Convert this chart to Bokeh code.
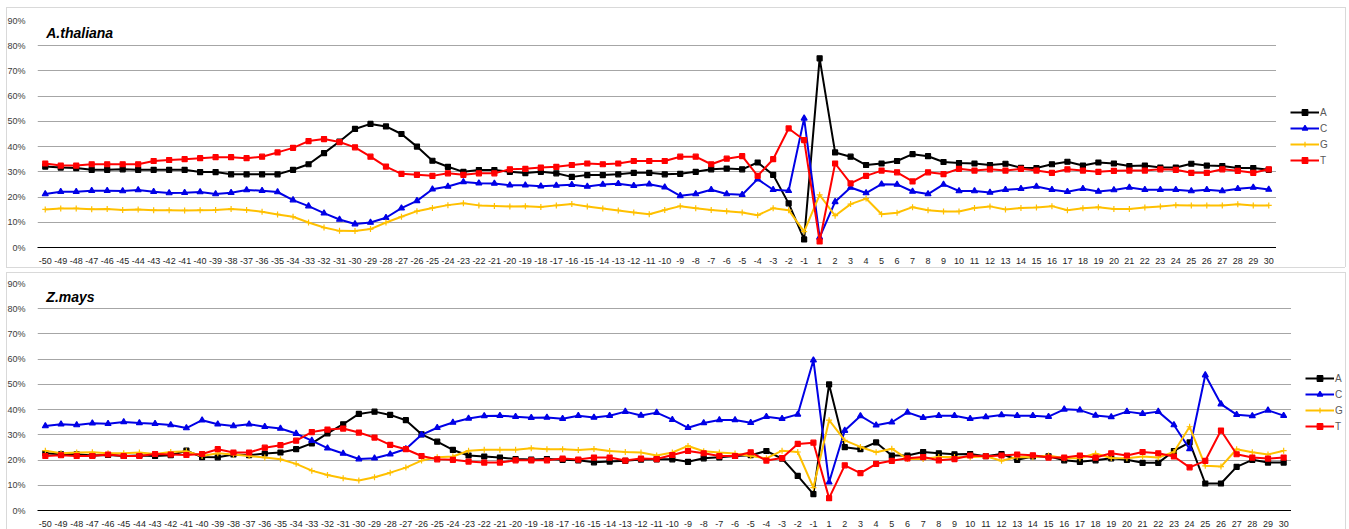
from bokeh.plotting import figure
from bokeh.models import (FactorRange, Range1d, FixedTicker, PrintfTickFormatter,
                          Legend, LegendItem)
from bokeh.layouts import column, row
from bokeh.embed import file_html
from bokeh.resources import INLINE
from bokeh.core.properties import value

# ---------------- data ----------------
positions = [str(i) for i in range(-50, 0)] + [str(i) for i in range(1, 31)]
y_ticks = [0, 10, 20, 30, 40, 50, 60, 70, 80, 90]

# A.thaliana (percent)
at_A = [32.1, 31.7, 31.5, 30.8, 30.8, 31.0, 30.8, 30.8, 30.8, 30.8,
        29.9, 29.9, 29.0, 29.0, 29.0, 29.0, 30.8, 33.0, 37.4, 42.0,
        47.0, 49.0, 48.0, 45.0, 40.0, 34.4, 32.0, 30.0, 30.7, 30.7,
        30.0, 29.5, 30.0, 29.4, 28.0, 28.7, 28.7, 29.0, 29.6, 29.6,
        29.0, 29.2, 30.0, 31.0, 31.3, 31.0, 33.7, 28.8, 17.5, 3.2,
        75.0, 37.7, 36.0, 32.7, 33.3, 34.3, 37.0, 36.2, 33.9, 33.5,
        33.3, 32.7, 33.2, 31.6, 31.5, 33.0, 34.0, 32.5, 33.7, 33.3,
        32.3, 32.5, 31.7, 31.7, 33.2, 32.5, 32.3, 31.5, 31.5, 30.8]
at_C = [21.2, 22.1, 22.1, 22.5, 22.5, 22.4, 22.8, 22.1, 21.6, 21.7,
        22.0, 21.2, 21.7, 22.8, 22.5, 22.0, 18.8, 16.4, 13.6, 11.1,
        9.3, 9.9, 11.8, 15.6, 18.5, 23.1, 24.2, 26.0, 25.5, 25.4,
        24.7, 24.7, 24.3, 24.6, 24.9, 24.2, 25.0, 25.3, 24.5, 25.1,
        23.9, 20.5, 21.2, 22.9, 21.2, 20.9, 27.1, 22.9, 22.5, 51.2,
        4.0, 18.1, 23.8, 21.6, 25.1, 25.0, 22.2, 21.2, 25.0, 22.4,
        22.4, 21.8, 22.9, 23.3, 24.2, 22.9, 22.1, 23.3, 22.2, 22.8,
        23.8, 22.9, 22.9, 22.9, 22.4, 22.9, 22.4, 23.3, 23.8, 23.0]
at_G = [15.1, 15.5, 15.5, 15.2, 15.3, 14.9, 15.1, 14.8, 14.8, 14.7,
        14.8, 14.9, 15.3, 14.9, 14.2, 13.1, 12.2, 9.9, 7.9, 6.6,
        6.5, 7.3, 9.9, 12.2, 14.4, 15.7, 16.8, 17.5, 16.7, 16.5,
        16.3, 16.4, 16.1, 16.7, 17.2, 16.3, 15.5, 14.7, 13.9, 13.2,
        14.9, 16.4, 15.6, 14.9, 14.4, 13.9, 12.8, 15.6, 14.8, 6.3,
        20.9, 12.6, 17.2, 19.4, 13.2, 13.8, 16.0, 14.8, 14.3, 14.3,
        15.7, 16.3, 15.1, 15.7, 15.9, 16.4, 14.8, 15.6, 16.0, 15.3,
        15.3, 15.9, 16.3, 16.8, 16.7, 16.7, 16.7, 17.1, 16.7, 16.7]
at_T = [33.3, 32.5, 32.5, 33.0, 33.0, 33.0, 33.0, 34.3, 34.7, 35.0,
        35.4, 35.8, 35.8, 35.4, 36.0, 37.7, 39.5, 42.2, 43.0, 41.8,
        39.7, 36.0, 32.1, 29.2, 28.8, 28.4, 29.4, 28.8, 29.4, 29.4,
        31.0, 31.2, 31.7, 32.0, 32.7, 33.3, 33.0, 33.3, 34.3, 34.3,
        34.3, 36.0, 36.0, 33.0, 35.2, 36.2, 28.4, 35.0, 47.2, 42.6,
        2.4, 33.3, 25.4, 28.4, 30.5, 29.8, 26.2, 29.8, 29.1, 31.2,
        30.5, 31.0, 30.5, 31.2, 30.5, 29.6, 31.0, 30.5, 30.0, 30.4,
        30.5, 30.5, 31.0, 30.8, 29.6, 29.6, 31.0, 30.4, 29.6, 31.0]

# Z.mays (percent)
zm_A = [22.7, 22.3, 22.3, 21.8, 22.0, 21.6, 21.8, 21.6, 21.9, 23.7,
        21.2, 21.1, 22.2, 21.9, 22.6, 23.0, 24.3, 26.6, 30.6, 34.2,
        38.3, 39.2, 37.9, 35.8, 30.2, 27.3, 24.0, 21.8, 21.4, 21.0,
        20.4, 20.2, 20.4, 20.1, 19.9, 19.1, 19.4, 19.7, 20.2, 20.3,
        20.3, 19.3, 20.7, 21.1, 21.6, 21.9, 23.6, 20.6, 13.7, 6.5,
        50.0, 25.1, 24.3, 27.0, 21.8, 21.8, 23.2, 22.7, 22.3, 22.4,
        21.5, 22.4, 20.1, 21.4, 21.5, 19.9, 19.3, 19.9, 20.7, 20.1,
        18.9, 18.9, 23.6, 27.0, 10.7, 10.7, 17.3, 20.1, 19.0, 19.0]
zm_C = [33.5, 34.2, 33.9, 34.6, 34.4, 35.1, 34.7, 34.4, 33.9, 32.7,
        35.8, 34.2, 33.5, 34.2, 33.2, 32.5, 30.5, 27.7, 24.7, 22.6,
        20.4, 20.7, 22.3, 24.4, 30.0, 32.8, 34.9, 36.5, 37.5, 37.6,
        37.2, 36.8, 36.9, 36.4, 37.6, 36.9, 37.6, 39.2, 37.7, 38.8,
        36.0, 32.8, 34.7, 35.9, 35.9, 34.8, 37.2, 36.4, 38.1, 59.6,
        11.2, 31.7, 37.5, 33.8, 35.0, 38.9, 36.8, 37.6, 37.6, 36.4,
        37.1, 37.9, 37.6, 37.6, 37.2, 40.1, 39.8, 37.7, 37.1, 39.2,
        38.4, 39.2, 33.9, 24.4, 53.7, 42.2, 38.0, 37.5, 39.7, 37.6]
zm_G = [23.7, 22.7, 23.0, 23.1, 22.7, 22.7, 23.0, 22.4, 23.2, 23.5,
        21.6, 22.7, 22.2, 21.6, 21.0, 20.3, 18.5, 15.8, 14.1, 12.8,
        11.9, 13.2, 15.0, 17.0, 19.8, 21.1, 21.4, 23.7, 24.1, 24.1,
        24.1, 24.7, 24.3, 24.3, 24.0, 24.4, 23.6, 23.2, 23.0, 21.8,
        23.0, 25.6, 23.5, 23.0, 22.6, 21.6, 20.7, 23.7, 23.2, 9.1,
        35.8, 27.8, 25.2, 23.1, 24.5, 20.4, 20.4, 21.2, 21.2, 21.1,
        21.5, 19.7, 21.2, 21.1, 21.8, 20.7, 20.7, 22.6, 20.8, 20.7,
        21.4, 21.0, 23.2, 33.2, 17.7, 17.4, 24.3, 23.1, 22.2, 23.7]
zm_T = [21.6, 21.9, 21.6, 21.6, 22.2, 21.6, 21.6, 22.4, 22.2, 22.0,
        22.4, 24.3, 23.0, 23.0, 24.9, 25.9, 27.7, 31.1, 32.1, 32.5,
        30.9, 28.9, 26.0, 24.3, 21.6, 20.3, 20.1, 19.4, 19.0, 19.0,
        19.9, 19.9, 19.9, 20.6, 20.2, 21.0, 21.0, 19.8, 20.6, 20.4,
        22.0, 23.6, 22.7, 21.6, 21.6, 23.1, 19.8, 20.8, 26.4, 26.9,
        4.9, 17.9, 14.8, 18.5, 19.7, 20.7, 21.2, 19.9, 20.4, 21.8,
        21.5, 21.8, 22.2, 21.9, 21.0, 21.0, 21.8, 21.0, 22.7, 21.8,
        23.2, 22.7, 21.4, 17.1, 19.7, 31.7, 22.3, 21.0, 20.6, 21.0]

series_names = ["A", "C", "G", "T"]
colors = {"A": "#000000", "C": "#0000e6", "G": "#ffc000", "T": "#ff0000"}
markers = {"A": "square", "C": "triangle", "G": "cross", "T": "square"}
msize = {"A": 5, "C": 6, "G": 6, "T": 5}

FONT = "Liberation Sans"
BOX = "#d9d9d9"


def lines_css(hlines, vlines):
    """hlines: (x0, x1, y); vlines: (x, y0, y1) -> CSS background drawing 1px lines."""
    g = f"linear-gradient({BOX},{BOX})"
    parts = []
    for x0, x1, y in hlines:
        parts.append(f"{g} {x0}px {y}px / {x1 - x0}px 1px no-repeat")
    for x, y0, y1 in vlines:
        parts.append(f"{g} {x}px {y0}px / 1px {y1 - y0}px no-repeat")
    parts.append("#ffffff")
    return {"background": ", ".join(parts)}


def add_series(fig, name, ys):
    ln = fig.line(positions, ys, line_color=colors[name], line_width=2)
    sc = fig.scatter(positions, ys, marker=markers[name], size=msize[name],
                     fill_color=colors[name], line_color=colors[name], line_width=1.2)
    return ln, sc


def make_panel(title, data, width, height, top, bottom, title_y,
               box_top, box_bottom, leg_width, leg_x, leg_y):
    p = figure(width=width, height=height, x_range=FactorRange(*positions),
               y_range=Range1d(0, 90), output_backend="svg", toolbar_location=None,
               min_border_left=37, min_border_right=0, min_border_top=top,
               min_border_bottom=bottom)
    p.outline_line_color = None
    p.background_fill_color = "white"
    p.border_fill_alpha = 0
    p.styles = lines_css([(6, width, box_top), (6, width, box_bottom)],
                         [(6, box_top, box_bottom)])

    p.xgrid.grid_line_color = None
    p.ygrid.grid_line_color = "#a6a6a6"
    p.ygrid.grid_line_width = 1

    p.yaxis.ticker = FixedTicker(ticks=y_ticks)
    p.yaxis.formatter = PrintfTickFormatter(format="%d%%")
    p.yaxis.axis_line_color = None
    p.yaxis.major_tick_line_color = None
    p.yaxis.minor_tick_line_color = None
    p.yaxis.major_label_standoff = 6
    p.yaxis.major_label_text_font = FONT
    p.yaxis.major_label_text_font_size = "9px"
    p.yaxis.major_label_text_color = "#3c3c3c"

    p.xaxis.axis_line_color = "#000000"
    p.xaxis.axis_line_width = 1
    p.xaxis.major_tick_line_color = None
    p.xaxis.minor_tick_line_color = None
    p.xaxis.major_label_standoff = 4
    p.xaxis.major_label_text_font = FONT
    p.xaxis.major_label_text_font_size = "9px"
    p.xaxis.major_label_text_color = "#1e1e1e"

    for name in series_names:
        add_series(p, name, data[name])

    p.text(x=[positions[0]], y=[title_y], text=[title], text_font=value(FONT),
           text_font_style="bold italic", text_font_size="14px",
           text_baseline="middle", text_align="left", x_offset=1, text_color="#000000")

    # legend lives in a small companion figure right of the plot area;
    # its series copies fall outside that figure's (empty) view range
    lg = figure(width=leg_width, height=height, x_range=FactorRange(*positions),
                y_range=Range1d(1000, 1001), output_backend="svg", toolbar_location=None,
                x_axis_location=None, y_axis_location=None,
                min_border_left=0, min_border_right=0, min_border_top=0, min_border_bottom=0)
    lg.outline_line_color = None
    lg.grid.grid_line_color = None
    lg.background_fill_alpha = 0
    lg.border_fill_alpha = 0
    rx = 1345 - width
    lg.styles = lines_css([(0, rx, box_top), (0, rx, box_bottom)],
                          [(rx, box_top, box_bottom)])
    items = []
    for name in series_names:
        ln, sc = add_series(lg, name, data[name])
        items.append(LegendItem(label=name, renderers=[ln, sc]))
    legend = Legend(items=items, location=(leg_x, leg_y), orientation="vertical",
                    padding=2, spacing=2, margin=0, glyph_width=29, glyph_height=14,
                    label_height=14, label_standoff=1, label_text_font=FONT,
                    label_text_font_size="10px", label_text_color="#595959",
                    border_line_color=None, background_fill_alpha=0)
    lg.add_layout(legend, "center")
    return row(p, lg, spacing=0)


r1 = make_panel("A.thaliana", {"A": at_A, "C": at_C, "G": at_G, "T": at_T},
                width=1276, height=270, top=20, bottom=23, title_y=85.2,
                box_top=7, box_bottom=267, leg_width=73, leg_x=14, leg_y=80)
r2 = make_panel("Z.mays", {"A": zm_A, "C": zm_C, "G": zm_G, "T": zm_T},
                width=1291, height=259, top=13, bottom=18, title_y=84.5,
                box_top=2, box_bottom=300, leg_width=58, leg_x=14, leg_y=77)

layout = column(r1, r2, spacing=0)
open("out.html", "w").write(file_html(layout, INLINE))
